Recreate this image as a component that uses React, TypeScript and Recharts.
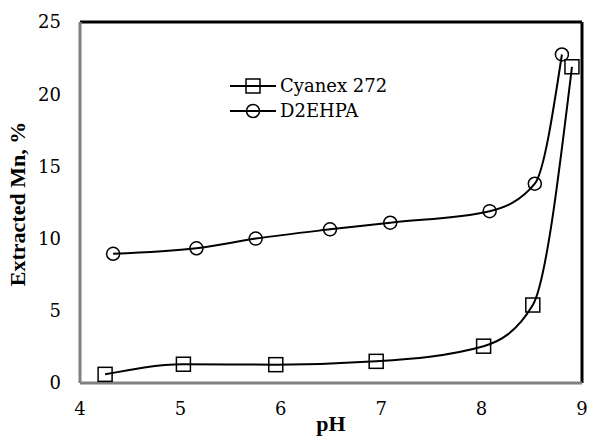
import React from "react";
import { LineChart, Line, XAxis, YAxis, ReferenceLine } from "recharts";

// pH values and extraction (%)
const cyanexPh = [4.25, 5.03, 5.95, 6.95, 8.02, 8.51, 8.9];
const cyanexMn = [0.6, 1.3, 1.27, 1.5, 2.55, 5.4, 21.9];
const d2ehpaPh = [4.33, 5.16, 5.75, 6.49, 7.09, 8.08, 8.53, 8.8];
const d2ehpaMn = [8.95, 9.33, 10.0, 10.64, 11.1, 11.9, 13.8, 22.75];
const xTicks = [4, 5, 6, 7, 8, 9];
const yTicks = [0, 5, 10, 15, 20, 25];

const cyanexData = cyanexPh.map((ph, i) => ({ ph, mn: cyanexMn[i] }));
const d2ehpaData = d2ehpaPh.map((ph, i) => ({ ph, mn: d2ehpaMn[i] }));

const font = "Liberation Serif";
const textFont = "DejaVu Serif";

const Square = (props: any) => {
  const { cx, cy, index } = props;
  return (
    <rect
      key={"sq" + index}
      x={cx - 7}
      y={cy - 7}
      width={14}
      height={14}
      fill="none"
      stroke="#000"
      strokeWidth={1.5}
    />
  );
};

const Circle = (props: any) => {
  const { cx, cy, index } = props;
  return (
    <circle
      key={"ci" + index}
      cx={cx}
      cy={cy}
      r={6.5}
      fill="none"
      stroke="#000"
      strokeWidth={1.5}
    />
  );
};

const legendItems = [
  { name: "Cyanex 272", shape: "square" },
  { name: "D2EHPA", shape: "circle" },
];

const ChartLegend = () => (
  <div
    style={{
      position: "absolute",
      left: 229,
      top: 73,
      fontFamily: textFont,
      fontSize: 18,
    }}
  >
    {legendItems.map((it) => (
      <div
        key={it.name}
        style={{ display: "flex", alignItems: "center", height: 25 }}
      >
        <svg width={48} height={20}>
          <line x1={1} y1={10} x2={47} y2={10} stroke="#000" strokeWidth={2} />
          {it.shape === "square" ? (
            <rect x={17} y={3} width={14} height={14} fill="none" stroke="#000" strokeWidth={1.5} />
          ) : (
            <circle cx={24} cy={10} r={6.5} fill="none" stroke="#000" strokeWidth={1.5} />
          )}
        </svg>
        <span style={{ marginLeft: 3 }}>{it.name}</span>
      </div>
    ))}
  </div>
);

const App = () => {
  return (
    <div style={{ position: "absolute", left: 0, top: 0, width: 589, height: 437 }}>
      <LineChart
        width={589}
        height={437}
        margin={{ top: 22, right: 7, left: 0, bottom: 0 }}
      >
        <XAxis
          type="number"
          dataKey="ph"
          domain={[4, 9]}
          ticks={xTicks}
          height={54}
          tickLine={false}
          tickSize={0}
          tickMargin={19}
          allowDataOverflow
          axisLine={{ stroke: "#808080", strokeWidth: 3 }}
          tick={{ fill: "#000", fontSize: 18, fontFamily: textFont }}
          label={{
            content: () => (
              <text
                x={331}
                y={431}
                textAnchor="middle"
                fontFamily={font}
                fontSize={22}
                fontWeight="bold"
                fill="#000"
              >
                pH
              </text>
            ),
          }}
        />
        <YAxis
          type="number"
          dataKey="mn"
          domain={[0, 25]}
          ticks={yTicks}
          width={80}
          tickLine={false}
          tickSize={0}
          tickMargin={19}
          allowDataOverflow
          axisLine={{ stroke: "#808080", strokeWidth: 3 }}
          tick={{ fill: "#000", fontSize: 18, fontFamily: textFont }}
          label={{
            content: () => (
              <text
                x={25}
                y={204}
                textAnchor="middle"
                transform="rotate(-90 25 204)"
                fontFamily={font}
                fontSize={22}
                fontWeight="bold"
                fill="#000"
              >
                Extracted Mn, %
              </text>
            ),
          }}
        />
        <ReferenceLine y={25} stroke="#000" strokeWidth={3} />
        <ReferenceLine x={9} stroke="#000" strokeWidth={3} />
        <Line
          data={cyanexData}
          dataKey="mn"
          name="Cyanex 272"
          type="monotone"
          stroke="#000"
          strokeWidth={2}
          dot={Square}
          activeDot={false}
          isAnimationActive={false}
        />
        <Line
          data={d2ehpaData}
          dataKey="mn"
          name="D2EHPA"
          type="monotone"
          stroke="#000"
          strokeWidth={2}
          dot={Circle}
          activeDot={false}
          isAnimationActive={false}
        />
      </LineChart>
      <ChartLegend />
    </div>
  );
};

export default App;
